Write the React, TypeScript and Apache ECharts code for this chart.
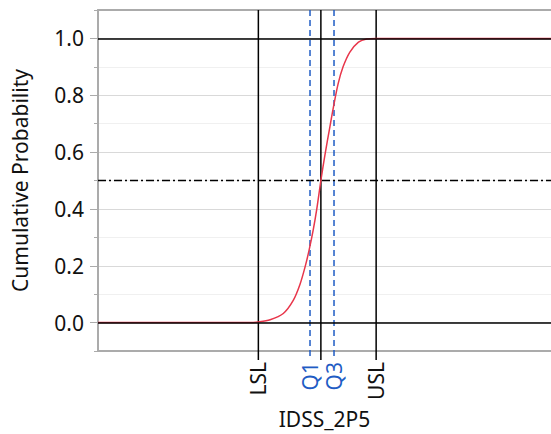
import React, { useEffect, useRef } from "react";
import * as echarts from "echarts";

// Cumulative probability curve, x in arbitrary IDSS_2P5 units
const curveX = [0, 15, 30, 33.6, 35.3, 38.0, 40.9, 43.1, 44.6, 45.7, 46.6, 47.5, 48.3, 49.2, 50.1, 51.2, 51.9, 53.0, 54.1, 55.6, 57.5, 59.3, 61.5, 65, 80, 100];
const curveY = [0, 0, 0, 0, 0.002, 0.010, 0.032, 0.078, 0.135, 0.195, 0.255, 0.325, 0.40, 0.50, 0.59, 0.69, 0.752, 0.84, 0.90, 0.952, 0.987, 0.998, 1.0, 1.0, 1.0, 1.0];

// Reference (vertical) lines
const refNames = ["LSL", "Q1", "", "Q3", "USL"];
const refValues = [35.4, 46.8, 49.2, 52.1, 61.4];
const refKinds = ["spec", "quartile", "mean", "quartile", "spec"];

// Horizontal reference lines
const hLineValues = [0, 1, 0.5];
const hLineKinds = ["solid", "solid", "dashdot"];

// Y tick labels
const yMajorTicks = [0, 0.2, 0.4, 0.6, 0.8, 1.0];

const FONT = "'Noto Sans', 'Open Sans', sans-serif";
const BLUE = "#1f5cc4";
const RED = "#e8364b";
const AXIS_GRAY = "#ababab";
const TEXT = "#111111";

export default function App() {
  const ref = useRef<HTMLDivElement>(null);
  useEffect(() => {
    if (!ref.current) return;
    const chart = echarts.init(ref.current, undefined, { renderer: "svg" });
    const curveData = curveX.map((x, i) => [x, curveY[i]]);
    const refData = refValues.map((v, i) => [v, 0, i]);
    const option: any = {
      animation: false,
      textStyle: { fontFamily: FONT },
      grid: { left: 98, right: 0, top: 10, bottom: 81 },
      xAxis: [
        {
          type: "value",
          min: 0,
          max: 100,
          position: "bottom",
          name: "IDSS_2P5",
          nameLocation: "middle",
          nameGap: 57,
          nameTextStyle: { fontSize: 21, color: TEXT, fontFamily: FONT },
          axisLine: { show: true, onZero: false, lineStyle: { color: AXIS_GRAY, width: 2 } },
          axisTick: { show: false },
          axisLabel: { show: false },
          splitLine: { show: false },
        },
        {
          type: "value",
          min: 0,
          max: 100,
          position: "top",
          axisLine: { show: true, onZero: false, lineStyle: { color: AXIS_GRAY, width: 2 } },
          axisTick: { show: false },
          axisLabel: { show: false },
          splitLine: { show: false },
        },
      ],
      yAxis: [
        {
          type: "value",
          min: -0.1,
          max: 1.1,
          interval: 0.1,
          name: "Cumulative Probability",
          nameLocation: "middle",
          nameGap: 68,
          nameTextStyle: { fontSize: 21, color: TEXT, fontFamily: FONT },
          axisLine: { show: true, onZero: false, lineStyle: { color: AXIS_GRAY, width: 2 } },
          axisTick: { show: true, length: 4, lineStyle: { color: AXIS_GRAY, width: 1 } },
          axisLabel: {
            margin: 14,
            fontSize: 21,
            color: TEXT,
            fontFamily: FONT,
            formatter: (v: number) => {
              const hit = yMajorTicks.find((t) => Math.abs(t - v) < 1e-6);
              return hit === undefined ? "" : hit.toFixed(1);
            },
          },
          splitLine: { show: true, lineStyle: { color: ["#f0f0f0", "#d9d9d9"], width: 1 } },
        },
        {
          type: "value",
          min: -0.1,
          max: 1.1,
          position: "left",
          axisLine: { show: false },
          axisTick: { show: true, length: 8, customValues: yMajorTicks, lineStyle: { color: AXIS_GRAY, width: 1 } },
          axisLabel: { show: false },
          splitLine: { show: false },
        },
      ],
      series: [
        {
          type: "line",
          data: [],
          z: 1,
          markLine: {
            silent: true,
            symbol: "none",
            label: { show: false },
            data: hLineValues.map((v, i) => ({
              yAxis: v,
              lineStyle: {
                color: "#000",
                width: hLineKinds[i] === "solid" ? 1.5 : 1.3,
                type: hLineKinds[i] === "solid" ? "solid" : [8, 3, 2, 3],
              },
            })),
          },
        },
        {
          type: "custom",
          clip: false,
          z: 2,
          data: refData,
          encode: { x: 0, y: 1 },
          renderItem: (params: any, api: any) => {
            const i = params.dataIndex;
            const x = api.value(0);
            const top = api.coord([x, 1.1]);
            const bot = api.coord([x, -0.1]);
            const kind = refKinds[i];
            const color = kind === "quartile" ? BLUE : "#000";
            const children: any[] = [
              {
                type: "line",
                shape: { x1: top[0], y1: top[1], x2: top[0], y2: bot[1] + 9 },
                style: {
                  stroke: color,
                  lineWidth: 1.5,
                  lineDash: kind === "quartile" ? [6, 4] : null,
                },
              },
            ];
            if (refNames[i]) {
              children.push({
                type: "text",
                x: top[0],
                y: bot[1] + 11,
                rotation: Math.PI / 2,
                style: {
                  text: refNames[i],
                  fill: kind === "quartile" ? BLUE : TEXT,
                  font: `21px ${FONT}`,
                  align: "right",
                  verticalAlign: "middle",
                },
              });
            }
            return { type: "group", children };
          },
        },
        {
          type: "line",
          data: curveData,
          z: 3,
          smooth: 0.3,
          showSymbol: false,
          symbol: "none",
          lineStyle: { color: RED, width: 1.5 },
        },
      ],
    };
    chart.setOption(option);
    return () => chart.dispose();
  }, []);
  return <div ref={ref} style={{ position: "absolute", left: 0, top: 0, width: 551, height: 434 }} />;
}
